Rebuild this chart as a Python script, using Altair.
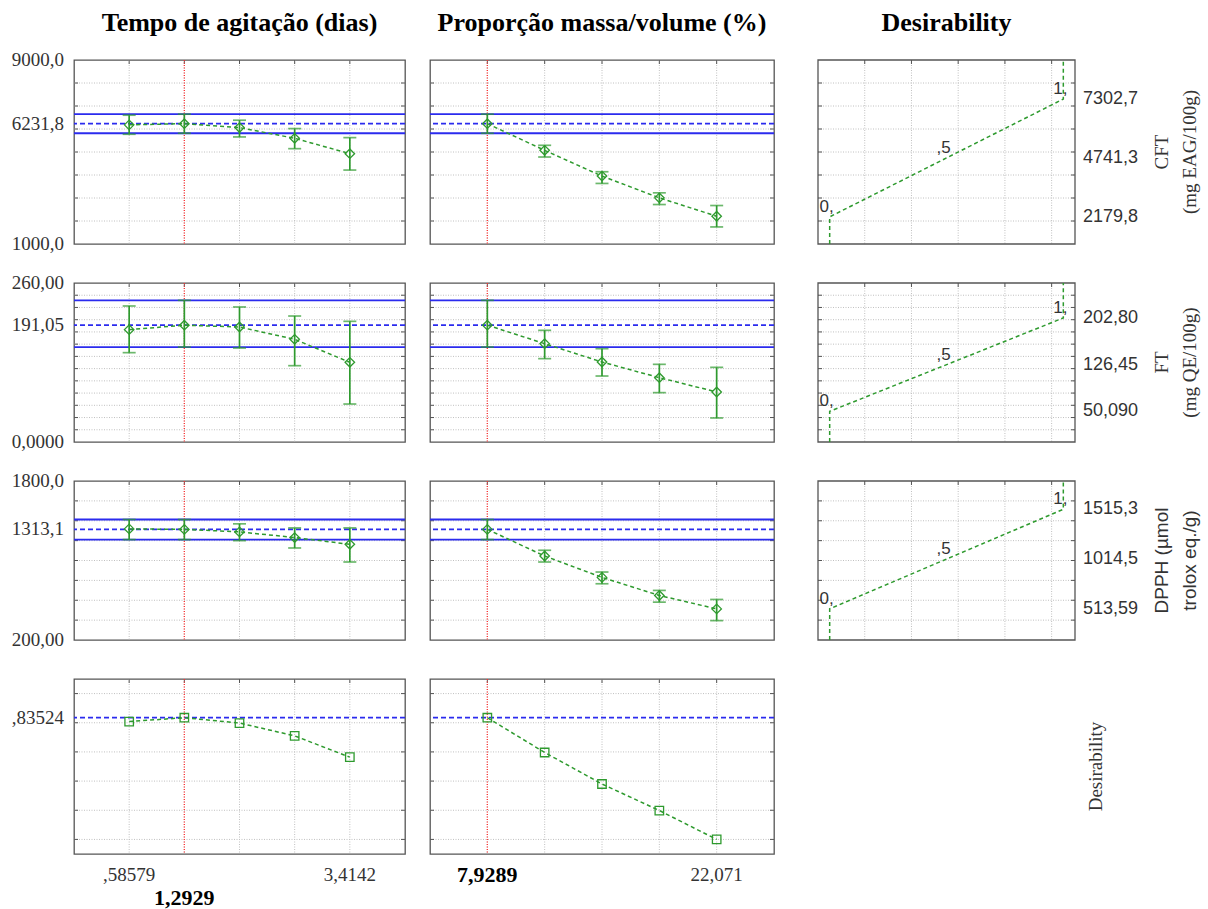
import altair as alt
import pandas as pd

# ---------------- style ----------------
SERIF = "Liberation Serif"
SANS = "Liberation Sans"
GREEN = "#2e9a2e"
BLUE = "#2b2bee"
RED = "#ff3030"
GRID = "#c0c0c0"
FRAME = "#555555"
TXT = "#333333"

W1, W2, W3 = 331, 344, 276
X3 = 19
H = [184, 159, 159, 175]

# ---------------- data ----------------
headings = ["Tempo de agitação (dias)", "Proporção massa/volume (%)", "Desirability"]

tempo_levels = [0.58579, 1.2929, 2.0, 2.7071, 3.4142]
prop_levels = [7.9289, 11.464, 15.0, 18.536, 22.071]
tempo_domain = [-0.12132, 4.12132]
prop_domain = [4.3934, 25.6066]
tempo_current = 1.2929
prop_current = 7.9289
tempo_tick_values = [0.58579, 3.4142]
tempo_tick_labels = [",58579", "3,4142"]
tempo_current_label = ["1,2929"]
prop_tick_values = [22.071]
prop_tick_labels = ["22,071"]
prop_current_label = ["7,9289"]

# CFT
cft_domain = [1000, 9000]
cft_grid = [2000, 3000, 4000, 5000, 6000, 7000, 8000]
cft_current = 6231.8
cft_ci = [5815, 6644]
cft_axis_values = [1000, 6231.8, 9000]
cft_axis_labels = ["1000,0", "6231,8", "9000,0"]
cft_tempo = [6180, 6231.8, 6062, 5596, 4927]
cft_tempo_lo = [5771, 5815, 5655, 5145, 4215]
cft_tempo_hi = [6600, 6644, 6382, 6018, 5625]
cft_prop = [6231.8, 5073, 3953, 3007, 2207]
cft_prop_lo = [5815, 4782, 3633, 2716, 1742]
cft_prop_hi = [6644, 5291, 4142, 3225, 2673]
cft_desir_values = [2179.8, 4741.3, 7302.7]
cft_desir_labels = ["2179,8", "4741,3", "7302,7"]
cft_title = "CFT\n(mg EAG/100g)"

# FT
ft_domain = [0, 260]
ft_grid = [20, 40, 60, 80, 100, 120, 140, 160, 180, 200, 220, 240]
ft_current = 191.05
ft_ci = [155.3, 231.7]
ft_axis_values = [0, 191.05, 260]
ft_axis_labels = ["0,0000", "191,05", "260,00"]
ft_tempo = [183.7, 191.05, 188.0, 167.9, 130.3]
ft_tempo_lo = [146.1, 155.3, 153.7, 124.8, 62.1]
ft_tempo_hi = [222.4, 231.7, 220.8, 206.0, 197.3]
ft_prop = [191.05, 160.8, 130.8, 105.2, 81.8]
ft_prop_lo = [155.3, 136.3, 107.9, 80.7, 39.3]
ft_prop_hi = [231.7, 182.6, 152.6, 127.0, 122.1]
ft_desir_values = [50.09, 126.45, 202.80]
ft_desir_labels = ["50,090", "126,45", "202,80"]
ft_title = "FT\n(mg QE/100g)"

# DPPH
dpph_domain = [200, 1800]
dpph_grid = [400, 600, 800, 1000, 1200, 1400, 1600]
dpph_current = 1313.1
dpph_ci = [1210.5, 1412.6]
dpph_axis_values = [200, 1313.1, 1800]
dpph_axis_labels = ["200,00", "1313,1", "1800,0"]
dpph_tempo = [1318, 1313.1, 1288, 1231, 1163]
dpph_tempo_lo = [1210.5, 1210.5, 1200, 1126, 985]
dpph_tempo_hi = [1412.6, 1412.6, 1369, 1328, 1328]
dpph_prop = [1313.1, 1045, 830, 648, 513]
dpph_prop_lo = [1210.5, 985, 766, 581, 395]
dpph_prop_hi = [1412.6, 1103, 884, 699, 608]
dpph_desir_values = [513.59, 1014.5, 1515.3]
dpph_desir_labels = ["513,59", "1014,5", "1515,3"]
dpph_title = "DPPH (µmol\ntrolox eq./g)"

# overall desirability
des_domain = [0.368, 0.968]
des_grid = [0.418, 0.518, 0.618, 0.718, 0.818, 0.918]
des_current = 0.83524
des_axis_values = [0.83524]
des_axis_labels = [",83524"]
des_tempo = [0.822, 0.83524, 0.817, 0.773, 0.700]
des_prop = [0.83524, 0.716, 0.608, 0.517, 0.418]
des_row_title = "Desirability"

# desirability functions (x = desirability 0..1)
d_domain = [-0.05, 1.05]
d_grid = [0.15, 0.35, 0.55, 0.75, 0.95]
d_levels = [0, 0.5, 1]
d_labels = ["0,", ",5", "1,"]


# ---------------- helpers ----------------
def text_layer(text, x, y, **kw):
    return alt.Chart(pd.DataFrame({"t": [text]})).mark_text(**kw).encode(
        text="t", x=alt.value(x), y=alt.value(y))


def factor_panel(levels, xdom, xcur, vals, lo, hi, ydom, ygrid, ycur, ci, W, Hh,
                 ylabels=None, marker="diamond", msize=90, heading=None, bottom=None,
                 spacer=False):
    def X(f):
        return alt.X(f, type="quantitative",
                     scale=alt.Scale(domain=xdom, nice=False, zero=False), axis=None)

    def Y(f):
        return alt.Y(f, type="quantitative",
                     scale=alt.Scale(domain=ydom, nice=False, zero=False), axis=None)

    gy = pd.DataFrame({"g": ygrid})
    gx = pd.DataFrame({"g": levels})
    layers = [
        alt.Chart(gy).mark_rule(color=GRID, strokeDash=[1, 1.5], strokeWidth=1).encode(y=Y("g")),
        alt.Chart(gx).mark_rule(color=GRID, strokeDash=[1, 1.5], strokeWidth=1).encode(x=X("g")),
        alt.Chart(gy).mark_rule(color=FRAME, strokeWidth=1).encode(y=Y("g"), x=alt.value(0), x2=alt.value(4)),
        alt.Chart(gy).mark_rule(color=FRAME, strokeWidth=1).encode(y=Y("g"), x=alt.value(W - 4), x2=alt.value(W)),
        alt.Chart(gx).mark_rule(color=FRAME, strokeWidth=1).encode(x=X("g"), y=alt.value(0), y2=alt.value(4)),
    ]
    if ci is not None:
        layers.append(alt.Chart(pd.DataFrame({"c": ci})).mark_rule(color=BLUE, strokeWidth=1.8).encode(y=Y("c")))
    layers.append(alt.Chart(pd.DataFrame({"c": [ycur]})).mark_rule(
        color=BLUE, strokeWidth=1.8, strokeDash=[5, 3]).encode(y=Y("c")))
    layers.append(alt.Chart(pd.DataFrame({"c": [xcur]})).mark_rule(
        color=RED, strokeWidth=1.3, strokeDash=[1, 1.5]).encode(x=X("c")))
    df = pd.DataFrame({"x": levels, "y": vals})
    layers.append(alt.Chart(df).mark_line(color=GREEN, strokeWidth=1.5, strokeDash=[4, 3]).encode(
        x=X("x"), y=Y("y")))
    if lo is not None:
        eb = pd.DataFrame({"x": levels, "lo": lo, "hi": hi})
        layers.append(alt.Chart(eb).mark_rule(color=GREEN, strokeWidth=1.7).encode(
            x=X("x"), y=Y("lo"), y2="hi"))
        caps = pd.DataFrame({"x": levels + levels, "y": lo + hi})
        layers.append(alt.Chart(caps).mark_tick(color=GREEN, orient="horizontal", size=13,
                                                thickness=1.7).encode(x=X("x"), y=Y("y")))
    layers.append(alt.Chart(df).mark_point(shape=marker, filled=False, size=msize, color=GREEN,
                                           strokeWidth=1.3, opacity=1).encode(x=X("x"), y=Y("y")))
    if ylabels is not None:
        ldf = pd.DataFrame({"v": ylabels[0], "t": ylabels[1]})
        layers.append(alt.Chart(ldf).mark_text(font=SERIF, fontSize=19, color=TXT, align="right",
                                               baseline="middle").encode(
            y=Y("v"), x=alt.value(-10), text="t"))
    if heading:
        layers.append(text_layer(heading, W / 2, -37, font=SERIF, fontSize=26, fontWeight="bold",
                                 color="black", align="center", baseline="middle"))
    if bottom:
        for values, labels, yoff, bold in bottom:
            bdf = pd.DataFrame({"v": values, "t": labels})
            layers.append(alt.Chart(bdf).mark_text(
                font=SERIF, fontSize=22 if bold else 19, fontWeight="bold" if bold else "normal",
                color="black" if bold else TXT, align="center", baseline="middle").encode(
                x=X("v"), y=alt.value(yoff), text="t"))
    if spacer:
        layers.append(alt.Chart(pd.DataFrame({"a": [0]})).mark_rule(color="white").encode(
            x=alt.value(-70), x2=alt.value(-69), y=alt.value(-58)))
    return alt.layer(*layers).properties(width=W, height=Hh)


def desir_panel(ydom, ygrid, lvals, llabels, Hh, title, title_font, heading=None):
    W = W3

    def X(f):
        return alt.X(f, type="quantitative",
                     scale=alt.Scale(domain=d_domain, range=[X3, W], nice=False, zero=False), axis=None)

    def Y(f):
        return alt.Y(f, type="quantitative",
                     scale=alt.Scale(domain=ydom, nice=False, zero=False), axis=None)

    gy = pd.DataFrame({"g": ygrid})
    gx = pd.DataFrame({"g": d_grid})
    curve = pd.DataFrame({"d": [0, 0, 1, 1], "v": [ydom[0], lvals[0], lvals[2], ydom[1]],
                          "o": [0, 1, 2, 3]})
    labs = pd.DataFrame({"d": d_levels, "v": lvals, "t": d_labels})
    rl = pd.DataFrame({"v": lvals, "t": llabels})
    layers = [
        alt.Chart(gy).mark_rule(color=GRID, strokeDash=[1, 1.5], strokeWidth=1).encode(
            y=Y("g"), x=alt.value(X3), x2=alt.value(W)),
        alt.Chart(gx).mark_rule(color=GRID, strokeDash=[1, 1.5], strokeWidth=1).encode(x=X("g")),
        alt.Chart(gy).mark_rule(color=FRAME, strokeWidth=1).encode(y=Y("g"), x=alt.value(X3), x2=alt.value(X3 + 4)),
        alt.Chart(gy).mark_rule(color=FRAME, strokeWidth=1).encode(y=Y("g"), x=alt.value(W - 4), x2=alt.value(W)),
        alt.Chart(gx).mark_rule(color=FRAME, strokeWidth=1).encode(x=X("g"), y=alt.value(0), y2=alt.value(4)),
        alt.Chart(pd.DataFrame({"a": [0]})).mark_rect(filled=False, color=FRAME, strokeWidth=1.3).encode(
            x=alt.value(X3), x2=alt.value(W), y=alt.value(0), y2=alt.value(Hh)),
        alt.Chart(curve).mark_line(color=GREEN, strokeWidth=1.5, strokeDash=[4, 3]).encode(
            x=X("d"), y=Y("v"), order="o:Q"),
        alt.Chart(labs).mark_text(font=SANS, fontSize=17, color=TXT, dx=-3, dy=-10,
                                  align="center", baseline="middle").encode(
            x=X("d"), y=Y("v"), text="t"),
        alt.Chart(rl).mark_text(font=SANS, fontSize=18, color=TXT, align="left",
                                baseline="middle").encode(
            y=Y("v"), x=alt.value(W + 8), text="t"),
        text_layer(title, 363, Hh / 2, font=title_font, fontSize=19, color=TXT, angle=270,
                   lineBreak="\n", lineHeight=28, align="center", baseline="middle"),
    ]
    if heading:
        layers.append(text_layer(heading, (X3 + W) / 2, -37, font=SERIF, fontSize=26, fontWeight="bold",
                                 color="black", align="center", baseline="middle"))
    return alt.layer(*layers).properties(width=W, height=Hh,
                                         view=alt.ViewBackground(stroke="transparent"))


# ---------------- cells ----------------
cells = []
# Row 1: CFT
cells.append(factor_panel(tempo_levels, tempo_domain, tempo_current, cft_tempo, cft_tempo_lo, cft_tempo_hi,
                          cft_domain, cft_grid, cft_current, cft_ci, W1, H[0],
                          ylabels=(cft_axis_values, cft_axis_labels), heading=headings[0], spacer=True))
cells.append(factor_panel(prop_levels, prop_domain, prop_current, cft_prop, cft_prop_lo, cft_prop_hi,
                          cft_domain, cft_grid, cft_current, cft_ci, W2, H[0], heading=headings[1]))
cells.append(desir_panel(cft_domain, cft_grid, cft_desir_values, cft_desir_labels, H[0], cft_title, SERIF,
                         heading=headings[2]))
# Row 2: FT
cells.append(factor_panel(tempo_levels, tempo_domain, tempo_current, ft_tempo, ft_tempo_lo, ft_tempo_hi,
                          ft_domain, ft_grid, ft_current, ft_ci, W1, H[1],
                          ylabels=(ft_axis_values, ft_axis_labels)))
cells.append(factor_panel(prop_levels, prop_domain, prop_current, ft_prop, ft_prop_lo, ft_prop_hi,
                          ft_domain, ft_grid, ft_current, ft_ci, W2, H[1]))
cells.append(desir_panel(ft_domain, ft_grid, ft_desir_values, ft_desir_labels, H[1], ft_title, SERIF))
# Row 3: DPPH
cells.append(factor_panel(tempo_levels, tempo_domain, tempo_current, dpph_tempo, dpph_tempo_lo, dpph_tempo_hi,
                          dpph_domain, dpph_grid, dpph_current, dpph_ci, W1, H[2],
                          ylabels=(dpph_axis_values, dpph_axis_labels)))
cells.append(factor_panel(prop_levels, prop_domain, prop_current, dpph_prop, dpph_prop_lo, dpph_prop_hi,
                          dpph_domain, dpph_grid, dpph_current, dpph_ci, W2, H[2]))
cells.append(desir_panel(dpph_domain, dpph_grid, dpph_desir_values, dpph_desir_labels, H[2], dpph_title, SANS))
# Row 4: overall desirability
cells.append(factor_panel(tempo_levels, tempo_domain, tempo_current, des_tempo, None, None,
                          des_domain, des_grid, des_current, None, W1, H[3],
                          ylabels=(des_axis_values, des_axis_labels), marker="square", msize=72,
                          bottom=[(tempo_tick_values, tempo_tick_labels, H[3] + 21, False),
                                  ([tempo_current], tempo_current_label, H[3] + 44, True)]))
cells.append(factor_panel(prop_levels, prop_domain, prop_current, des_prop, None, None,
                          des_domain, des_grid, des_current, None, W2, H[3], marker="square", msize=72,
                          bottom=[(prop_tick_values, prop_tick_labels, H[3] + 21, False),
                                  ([prop_current], prop_current_label, H[3] + 21, True)]))
cells.append(alt.layer(
    text_layer(des_row_title, 297, H[3] / 2, font=SERIF, fontSize=19, color=TXT, angle=270,
               align="center", baseline="middle")
).properties(width=W3, height=H[3], view=alt.ViewBackground(stroke="transparent")))

chart = alt.concat(*cells, columns=3, spacing=alt.RowColnumber(row=39, column=25), bounds="flush").properties(
    padding={"left": 2, "top": 0, "right": 0, "bottom": 0},
    background="white",
).configure_view(stroke=FRAME, strokeWidth=1.3)

chart.save("out.html", embed_options={"renderer": "svg", "actions": False})
